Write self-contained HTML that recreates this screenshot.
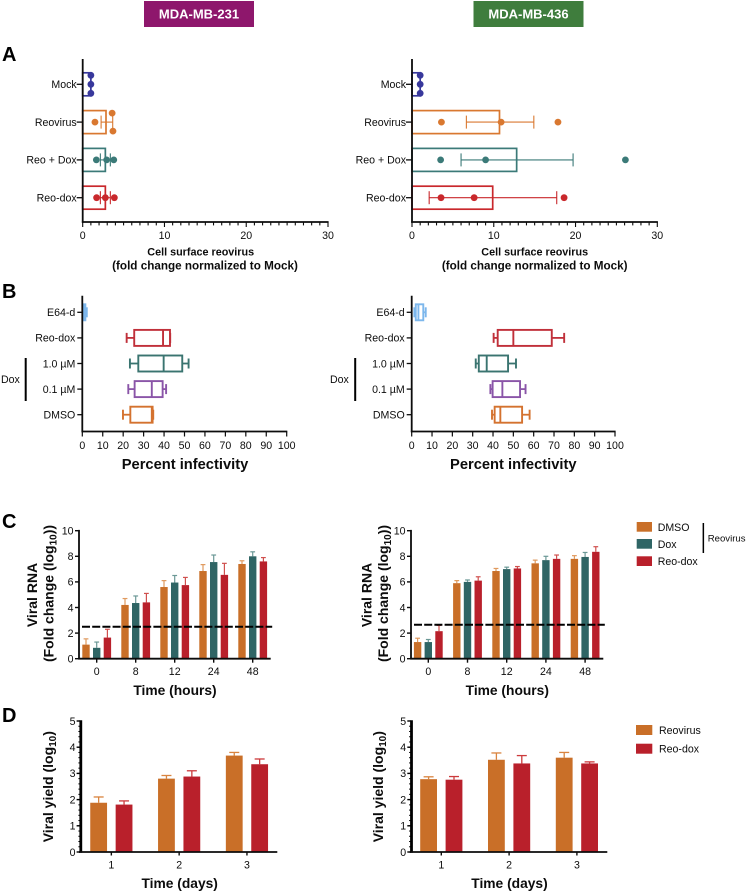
<!DOCTYPE html>
<html lang="en">
<head>
<meta charset="utf-8">
<title>Reovirus figure</title>
<style>
html,body{margin:0;padding:0;background:#fff;}
#figure{display:block;width:747px;height:893px;font-family:"Liberation Sans",Arial,sans-serif;filter:blur(0.3px);}
text{font-family:"Liberation Sans",Arial,sans-serif;fill:#0c0c0c;}
.tick{font-size:10.6px;}
.atitle{font-size:10.8px;font-weight:bold;}
.atitle2{font-size:11.7px;font-weight:bold;}
.btitle{font-size:14.7px;font-weight:bold;}
.ctitle{font-size:13.8px;font-weight:bold;}
.panel{font-size:20px;font-weight:bold;fill:#000;}
.head{font-size:13px;font-weight:bold;fill:#fff;}
</style>
</head>
<body>
<svg id="figure" xmlns="http://www.w3.org/2000/svg" width="747" height="893" viewBox="0 0 747 893">
  <rect x="144" y="1" width="110" height="26" fill="#8e176c"/>
  <text class="head" x="199" y="18.5" text-anchor="middle">MDA-MB-231</text>
  <rect x="473.5" y="1" width="110" height="26" fill="#3f7d3d"/>
  <text class="head" x="528.5" y="18.5" text-anchor="middle">MDA-MB-436</text>

  <text class="panel" x="2" y="61">A</text>
  <text class="panel" x="2" y="298">B</text>
  <text class="panel" x="2" y="528">C</text>
  <text class="panel" x="2" y="722">D</text>

  <text class="atitle" x="200.7" y="255.5" text-anchor="middle">Cell surface reovirus</text>
  <text class="atitle2" x="205" y="269.5" text-anchor="middle">(fold change normalized to Mock)</text>
  <text class="atitle" x="534.7" y="255.5" text-anchor="middle">Cell surface reovirus</text>
  <text class="atitle2" x="534.7" y="269.5" text-anchor="middle">(fold change normalized to Mock)</text>

  <text class="btitle" x="185" y="469" text-anchor="middle">Percent infectivity</text>
  <text class="btitle" x="513.3" y="469" text-anchor="middle">Percent infectivity</text>
  <rect x="24.7" y="358" width="2" height="43" fill="#000"/>
  <text class="tick" x="1" y="383">Dox</text>
  <rect x="354.2" y="358" width="2" height="43" fill="#000"/>
  <text class="tick" x="330" y="383">Dox</text>

  <text class="ctitle" transform="translate(36.8,595) rotate(-90)" text-anchor="middle" style="font-size:14px">Viral RNA</text>
  <text class="ctitle" transform="translate(53.3,593.5) rotate(-90)" text-anchor="middle" style="font-size:14px">(Fold change (log<tspan dy="3" font-size="10">10</tspan><tspan dy="-3">))</tspan></text>
  <text class="ctitle" x="175" y="695" text-anchor="middle">Time (hours)</text>
  <text class="ctitle" transform="translate(371.5,595) rotate(-90)" text-anchor="middle" style="font-size:14px">Viral RNA</text>
  <text class="ctitle" transform="translate(388,593.5) rotate(-90)" text-anchor="middle" style="font-size:14px">(Fold change (log<tspan dy="3" font-size="10">10</tspan><tspan dy="-3">))</tspan></text>
  <text class="ctitle" x="507.3" y="695" text-anchor="middle">Time (hours)</text>

  <g>
    <rect x="636.7" y="522" width="15.3" height="9.7" fill="#c96f28"/>
    <text class="tick" x="657.7" y="531">DMSO</text>
    <rect x="636.7" y="539" width="15.3" height="9.7" fill="#2f6565"/>
    <text class="tick" x="657.7" y="548">Dox</text>
    <rect x="636.7" y="556.3" width="15.3" height="9.7" fill="#b9202b"/>
    <text class="tick" x="657.7" y="565">Reo-dox</text>
    <rect x="702.6" y="523" width="1.5" height="30" fill="#000"/>
    <text x="707.7" y="541.5" style="font-size:9.6px">Reovirus</text>
  </g>

  <text class="ctitle" transform="translate(53,786.7) rotate(-90)" text-anchor="middle" style="font-size:14px">Viral yield (log<tspan dy="3" font-size="10">10</tspan><tspan dy="-3">)</tspan></text>
  <text class="ctitle" x="179.7" y="888" text-anchor="middle">Time (days)</text>
  <text class="ctitle" transform="translate(383,786.7) rotate(-90)" text-anchor="middle" style="font-size:14px">Viral yield (log<tspan dy="3" font-size="10">10</tspan><tspan dy="-3">)</tspan></text>
  <text class="ctitle" x="509.5" y="888" text-anchor="middle">Time (days)</text>

  <g>
    <rect x="636" y="725" width="16.3" height="10" fill="#c96f28"/>
    <text class="tick" x="659" y="734">Reovirus</text>
    <rect x="636" y="743.7" width="16.3" height="10" fill="#b9202b"/>
    <text class="tick" x="659" y="752.5">Reo-dox</text>
  </g>

  <g id="marks"></g>
</svg>
<script>
// ---------- Panel A data ----------
const aCategories = ["Mock", "Reovirus", "Reo + Dox", "Reo-dox"];
const aTicks = [0, 10, 20, 30];
const aLeftMeans = [1, 2.85, 2.77, 2.77];
const aLeftDots = [[1, 1, 1], [1.5, 3.6, 3.7], [1.67, 2.93, 3.8], [1.7, 2.77, 3.87]];
const aLeftErrLow = [1, 2.25, 2.16, 2.16];
const aLeftErrHigh = [1, 3.67, 3.38, 3.38];
const aRightMeans = [1, 10.7, 12.8, 9.87];
const aRightDots = [[1, 1, 1], [3.6, 10.9, 17.85], [3.5, 9.0, 26.1], [3.55, 7.6, 18.6]];
const aRightErrLow = [1, 6.65, 6.0, 2.1];
const aRightErrHigh = [1, 14.9, 19.7, 17.7];

// ---------- Panel B data ----------
const bCategories = ["E64-d", "Reo-dox", "1.0 \u00b5M", "0.1 \u00b5M", "DMSO"];
const bTicks = [0, 10, 20, 30, 40, 50, 60, 70, 80, 90, 100];
const bLeftMin = [0.2, 21.7, 23.3, 22.5, 19.9];
const bLeftQ1 = [0.4, 25.4, 27.4, 25.6, 23.5];
const bLeftMedian = [1, 39.5, 39.8, 34, 34];
const bLeftQ3 = [1.5, 42.9, 48.9, 39.3, 34.4];
const bLeftMax = [2.2, 43, 52, 41, 34.7];
const bRightMin = [1.3, 40.3, 31.5, 38.7, 39.5];
const bRightQ1 = [2, 42.3, 33, 39.8, 40.8];
const bRightMedian = [3.3, 50, 36.9, 44.6, 43.6];
const bRightQ3 = [5.7, 68.9, 47.4, 53.3, 54.3];
const bRightMax = [6.9, 75, 51.3, 56, 58];

// ---------- Panel C data ----------
const cCategories = ["0", "8", "12", "24", "48"];
const cTicks = [0, 2, 4, 6, 8, 10];
const cLeftDmso = [1.1, 4.2, 5.6, 6.85, 7.4];
const cLeftDox = [0.85, 4.35, 5.95, 7.55, 8.0];
const cLeftReoDox = [1.65, 4.4, 5.75, 6.55, 7.6];
const cLeftDmsoTop = [1.55, 4.7, 6.1, 7.35, 7.65];
const cLeftDoxTop = [1.3, 4.9, 6.5, 8.1, 8.35];
const cLeftReoDoxTop = [2.3, 5.1, 6.35, 7.45, 7.9];
const cLeftThreshold = 2.5;
const cRightDmso = [1.3, 5.9, 6.85, 7.45, 7.8];
const cRightDox = [1.3, 6.0, 7.0, 7.7, 7.95];
const cRightReoDox = [2.15, 6.1, 7.05, 7.8, 8.35];
const cRightDmsoTop = [1.6, 6.1, 7.05, 7.7, 8.05];
const cRightDoxTop = [1.5, 6.15, 7.15, 8.0, 8.3];
const cRightReoDoxTop = [2.6, 6.4, 7.2, 8.1, 8.75];
const cRightThreshold = 2.65;

// ---------- Panel D data ----------
const dCategories = ["1", "2", "3"];
const dTicks = [0, 1, 2, 3, 4, 5];
const dLeftReovirus = [1.88, 2.8, 3.68];
const dLeftReoDox = [1.81, 2.88, 3.35];
const dLeftReovirusTop = [2.1, 2.92, 3.8];
const dLeftReoDoxTop = [1.95, 3.1, 3.55];
const dRightReovirus = [2.78, 3.52, 3.6];
const dRightReoDox = [2.76, 3.38, 3.38];
const dRightReovirusTop = [2.87, 3.78, 3.8];
const dRightReoDoxTop = [2.88, 3.68, 3.44];

const NS = "http://www.w3.org/2000/svg";
const root = document.getElementById("marks");
const INK = "#0c0c0c";

function mk(tag, attrs, parent) {
  const el = document.createElementNS(NS, tag);
  for (const k in attrs) el.setAttribute(k, attrs[k]);
  (parent || root).appendChild(el);
  return el;
}
function tag(el, name) {
  
  
  return el;
}
function group(name) {
  return tag(mk("g", {}), name);
}
function line(p, x1, y1, x2, y2, stroke, w, name, extra) {
  const el = mk("line", Object.assign({x1: x1, y1: y1, x2: x2, y2: y2, stroke: stroke, "stroke-width": w}, extra || {}), p);
  return tag(el, name);
}
function label(p, x, y, str, anchor, name) {
  const el = mk("text", {x: x, y: y, "text-anchor": anchor, "class": "tick"}, p);
  el.textContent = str;
  return tag(el, name);
}
function linear(d0, d1, r0, r1) {
  return function (v) { return r0 + (v - d0) * (r1 - r0) / (d1 - d0); };
}
function band(first, step) {
  return function (i) { return first + i * step; };
}

// Spreads overlapping dots vertically, the way a scatter-on-bar plot does.
function swarmOffsets(vals, spread) {
  const out = vals.map(function () { return 0; });
  let i = 0;
  while (i < vals.length) {
    let j = i;
    while (j + 1 < vals.length && Math.abs(vals[j + 1] - vals[j]) < 0.3) j++;
    const n = j - i + 1;
    if (n > 1) for (let k = 0; k < n; k++) out[i + k] = -spread + k * (2 * spread / (n - 1));
    i = j + 1;
  }
  return out;
}

const aColors = ["#38389c", "#d97830", "#3b7a78", "#c9282c"];
function panelA(side, x0, x30, means, dots, low, high) {
  const g = group("panel-a-" + side);
  const x = linear(0, 30, x0, x30);
  const rowY = band(84.3, 37.8);
  const bottom = 222, top = 59;
  aCategories.forEach(function (cat, i) {
    const y = rowY(i), c = aColors[i], slug = "a-" + side + "-" + i;
    tag(mk("rect", {x: x(0), y: y - 11.5, width: x(means[i]) - x(0), height: 23, fill: "none", stroke: c, "stroke-width": 1.7}, g), slug + "-bar");
    line(g, x(low[i]), y, x(high[i]), y, c, 1.1, slug + "-error-bar");
    line(g, x(low[i]), y - 6.5, x(low[i]), y + 6.5, c, 1.1, slug + "-error-cap-low");
    line(g, x(high[i]), y - 6.5, x(high[i]), y + 6.5, c, 1.1, slug + "-error-cap-high");
    const offs = swarmOffsets(dots[i], 9);
    dots[i].forEach(function (v, k) {
      tag(mk("circle", {cx: x(v), cy: y + offs[k], r: 3.4, fill: c}, g), slug + "-point");
    });
    line(g, x0 - 6, y, x0, y, INK, 1.3, "y-tick");
    label(g, x0 - 6, y + 3.8, cat, "end", "y-tick-label");
  });
  line(g, x0, top, x0, bottom + 0.8, INK, 1.8, "y-axis");
  line(g, x0 - 0.8, bottom, x30 + 0.6, bottom, INK, 1.8, "x-axis");
  for (let t = 0; t <= 30; t++) {
    line(g, x(t), bottom, x(t), bottom + (t % 10 === 0 ? 5 : 3.4), INK, 1.1, "x-tick");
  }
  aTicks.forEach(function (t) {
    label(g, x(t), 239, String(t), "middle", "x-tick-label");
  });
}
panelA("left", 82.7, 328, aLeftMeans, aLeftDots, aLeftErrLow, aLeftErrHigh);
panelA("right", 412, 657.3, aRightMeans, aRightDots, aRightErrLow, aRightErrHigh);

const bColors = ["#7db7ec", "#c0303a", "#3a7470", "#8a55a8", "#d4722f"];
function panelB(side, x0, x100, mins, q1, med, q3, maxs) {
  const g = group("panel-b-" + side);
  const x = linear(0, 100, x0, x100);
  const rowY = band(312.3, 25.6);
  const bottom = 431.5, top = 295.7;
  bCategories.forEach(function (cat, i) {
    const y = rowY(i), c = bColors[i], slug = "b-" + side + "-" + i;
    line(g, x(mins[i]), y, x(q1[i]), y, c, 1.8, slug + "-whisker-low");
    line(g, x(q3[i]), y, x(maxs[i]), y, c, 1.8, slug + "-whisker-high");
    line(g, x(mins[i]), y - 5, x(mins[i]), y + 5, c, 1.9, slug + "-cap-low");
    line(g, x(maxs[i]), y - 5, x(maxs[i]), y + 5, c, 1.9, slug + "-cap-high");
    tag(mk("rect", {x: x(q1[i]), y: y - 8, width: x(q3[i]) - x(q1[i]), height: 16, fill: "#fff", stroke: c, "stroke-width": 1.9}, g), slug + "-box");
    line(g, x(med[i]), y - 8, x(med[i]), y + 8, c, 1.9, slug + "-median");
    line(g, x0 - 5, y, x0, y, INK, 1.3, "y-tick");
    label(g, x0 - 7, y + 3.8, cat, "end", "y-tick-label");
  });
  line(g, x0, top, x0, bottom + 0.8, INK, 1.8, "y-axis");
  line(g, x0 - 0.8, bottom, x100 + 0.6, bottom, INK, 1.8, "x-axis");
  bTicks.forEach(function (t) {
    line(g, x(t), bottom, x(t), bottom + 5, INK, 1.2, "x-tick");
    label(g, x(t), 449, String(t), "middle", "x-tick-label");
  });
}
panelB("left", 82.3, 286.7, bLeftMin, bLeftQ1, bLeftMedian, bLeftQ3, bLeftMax);
panelB("right", 411.7, 615, bRightMin, bRightQ1, bRightMedian, bRightQ3, bRightMax);

const cColors = ["#c96f28", "#2f6565", "#b9202b"];
const cErrColors = ["#e09a5e", "#6b9896", "#d0504e"];
const cSeriesNames = ["dmso", "dox", "reo-dox"];
function panelC(side, axisX, endX, first, step, series, tops, threshold) {
  const g = group("panel-c-" + side);
  const y = linear(0, 10, 658.7, 530.7);
  const cx = band(first, step);
  const offsets = [-10.7, 0, 10.7];
  series.forEach(function (vals, s) {
    vals.forEach(function (v, i) {
      const bx = cx(i) + offsets[s], name = "c-" + side + "-" + cSeriesNames[s] + "-" + cCategories[i];
      line(g, bx, y(v), bx, y(tops[s][i]), cErrColors[s], 1.2, name + "-error-bar");
      line(g, bx - 2.4, y(tops[s][i]), bx + 2.4, y(tops[s][i]), cErrColors[s], 1.2, name + "-error-cap");
      tag(mk("rect", {x: bx - 3.7, y: y(v), width: 7.4, height: y(0) - y(v), fill: cColors[s]}, g), name + "-bar");
    });
  });
  line(g, axisX + 3, y(threshold), endX + 1.5, y(threshold), "#000", 2, "c-" + side + "-threshold-line", {"stroke-dasharray": "8 2.2"});
  line(g, axisX, y(10) - 0.8, axisX, y(0) + 0.8, INK, 1.8, "y-axis");
  line(g, axisX - 0.8, y(0), endX, y(0), INK, 1.8, "x-axis");
  cTicks.forEach(function (t) {
    line(g, axisX - 4, y(t), axisX, y(t), INK, 1.4, "y-tick");
    label(g, axisX - 5.5, y(t) + 3.8, String(t), "end", "y-tick-label");
  });
  cCategories.forEach(function (cat, i) {
    line(g, cx(i), y(0), cx(i), y(0) + 4, INK, 1.4, "x-tick");
    label(g, cx(i), 675, cat, "middle", "x-tick-label");
  });
}
panelC("left", 79, 270.7, 96.7, 39, [cLeftDmso, cLeftDox, cLeftReoDox], [cLeftDmsoTop, cLeftDoxTop, cLeftReoDoxTop], cLeftThreshold);
panelC("right", 411, 603.3, 428.3, 39.2, [cRightDmso, cRightDox, cRightReoDox], [cRightDmsoTop, cRightDoxTop, cRightReoDoxTop], cRightThreshold);

const dColors = ["#c96f28", "#b9202b"];
const dErrColors = ["#d9843f", "#cc3a3c"];
const dSeriesNames = ["reovirus", "reo-dox"];
function panelD(side, axisX, endX, first, step, series, tops) {
  const g = group("panel-d-" + side);
  const y = linear(0, 5, 852, 721);
  const cx = band(first, step);
  const offsets = [-12.7, 12.7];
  series.forEach(function (vals, s) {
    vals.forEach(function (v, i) {
      const bx = cx(i) + offsets[s], name = "d-" + side + "-" + dSeriesNames[s] + "-day-" + dCategories[i];
      line(g, bx, y(v), bx, y(tops[s][i]), dErrColors[s], 1.3, name + "-error-bar");
      line(g, bx - 5, y(tops[s][i]), bx + 5, y(tops[s][i]), dErrColors[s], 1.3, name + "-error-cap");
      tag(mk("rect", {x: bx - 8.4, y: y(v), width: 16.8, height: y(0) - y(v), fill: dColors[s]}, g), name + "-bar");
    });
  });
  line(g, axisX + 0.8, y(5) - 0.8, axisX + 0.8, y(0) + 0.8, "#000", 2.8, "y-axis");
  line(g, axisX - 1, y(0), endX, y(0), INK, 1.7, "x-axis");
  for (let m = 0; m <= 25; m++) {
    line(g, axisX - 1.6, y(m / 5), axisX, y(m / 5), "#000", 1, "y-minor-tick");
  }
  dTicks.forEach(function (t) {
    line(g, axisX - 3.4, y(t), axisX, y(t), "#000", 1.4, "y-tick");
    label(g, axisX - 4.5, y(t) + 3.8, String(t), "end", "y-tick-label");
  });
  dCategories.forEach(function (cat, i) {
    line(g, cx(i), y(0), cx(i), y(0) + 3.5, INK, 1.4, "x-tick");
    label(g, cx(i), 868.5, cat, "middle", "x-tick-label");
  });
}
panelD("left", 80, 277.3, 111.35, 67.8, [dLeftReovirus, dLeftReoDox], [dLeftReovirusTop, dLeftReoDoxTop]);
panelD("right", 410.7, 607.3, 441.3, 67.8, [dRightReovirus, dRightReoDox], [dRightReovirusTop, dRightReoDoxTop]);
</script>
</body>
</html>
